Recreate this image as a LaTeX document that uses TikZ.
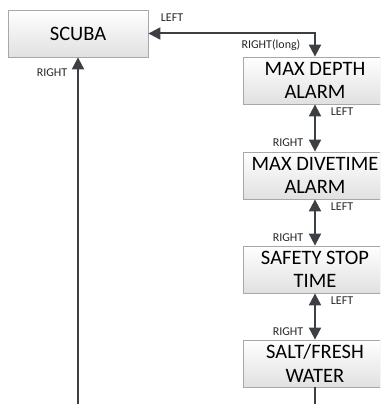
\documentclass[tikz,border=0pt]{standalone}
\usepackage{fontspec}
\setmainfont{Carlito}
\usetikzlibrary{arrows.meta,shadows}
\definecolor{linec}{HTML}{3C4044}
\definecolor{boxline}{HTML}{A8A8A8}
\tikzset{
  box/.style={draw=boxline, line width=0.8pt, top color=white, bottom color=black!12,
    minimum height=47pt, align=center, inner sep=0pt,
    font=\fontsize{20.5}{23.5}\selectfont,
    drop shadow={shadow xshift=1.2pt, shadow yshift=-1.2pt, opacity=0.25, fill=black}},
  conn/.style={draw=linec, line width=2pt, {Triangle[length=12pt,width=12pt]}-{Triangle[length=12pt,width=12pt]}},
  oneway/.style={draw=linec, line width=2pt, -{Triangle[length=12pt,width=12pt]}},
  plain/.style={draw=linec, line width=2pt},
  lbl/.style={font=\fontsize{12}{14}\selectfont, inner sep=0pt, text=black!85}
}
\begin{document}
\begin{tikzpicture}[x=1pt,y=-1pt]
\useasboundingbox (0,0) rectangle (380,404);
\clip (0,0) rectangle (380,404);
\node[box, minimum width=140pt] (scuba) at (78,33.5) {SCUBA};
\node[box, minimum width=144pt] (d1) at (315,80.5) {MAX DEPTH\\ALARM};
\node[box, minimum width=144pt] (d2) at (315,175.5) {MAX DIVETIME\\ALARM};
\node[box, minimum width=144pt] (d3) at (315,269.5) {SAFETY STOP\\TIME};
\node[box, minimum width=144pt] (d4) at (315,363.5) {SALT/FRESH\\WATER};
\coordinate (bl) at (78,410);
\coordinate (br) at (315,410);
\draw[conn] (scuba.east) -| (d1.north);
\draw[conn] (d1.south) -- (d2.north);
\draw[conn] (d2.south) -- (d3.north);
\draw[conn] (d3.south) -- (d4.north);
\draw[plain] (d4.south) -- (br);
\draw[oneway] (bl) -- (scuba.south);
\node[lbl] (l0) at (172,18) {LEFT};
\node[lbl] (r0) at (271,45.5) {RIGHT(long)};
\node[lbl] (rs) at (52,72.5) {RIGHT};
\node[lbl] (l1) at (342,112) {LEFT};
\node[lbl] (r1) at (288,142.5) {RIGHT};
\node[lbl] (l2) at (342,207) {LEFT};
\node[lbl] (r2) at (288,237.5) {RIGHT};
\node[lbl] (l3) at (342,301) {LEFT};
\node[lbl] (r3) at (288,331.5) {RIGHT};
\end{tikzpicture}
\end{document}
